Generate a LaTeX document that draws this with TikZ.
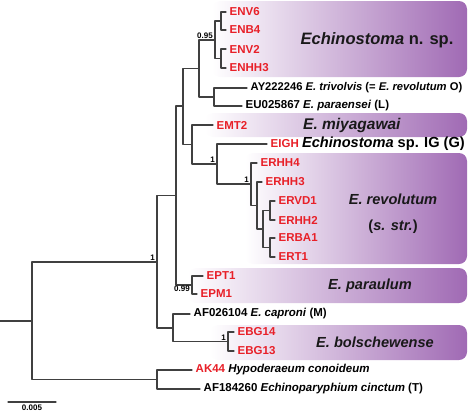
\documentclass[tikz,border=0pt]{standalone}
\usepackage{fontspec}
\setmainfont{Liberation Sans}
\usepackage{tikz}
\usetikzlibrary{positioning}

\definecolor{cladepurple}{RGB}{160,106,180}
\definecolor{isored}{RGB}{232,32,40}
\definecolor{branchgray}{RGB}{64,64,64}

\tikzset{
  branch/.style={draw=branchgray, line width=1.2pt},
  tip/.style={anchor=west, inner sep=3.5pt, font=\fontsize{11.5}{13}\selectfont\bfseries},
  isolate/.style={tip, text=isored},
  support/.style={inner sep=1pt, font=\fontsize{8}{9}\selectfont\bfseries},
  cladebox/.style={left color=white, right color=cladepurple, rounded corners=8pt},
  cladename/.style={text=black!90, font=\fontsize{14.6}{17}\selectfont\bfseries},
}

\begin{document}
\begin{tikzpicture}[x=1pt, y=-1pt, line join=round, line cap=round]

  \useasboundingbox (0,0) rectangle (472,413);
  \def\boxright{467}  % right end of the clade boxes

  % clade boxes
  \shade[cladebox] (212,1) rectangle (\boxright,77);
  \shade[cladebox] (205,113) rectangle (\boxright,137);
  \shade[cladebox] (245,153) rectangle (\boxright,264);
  \shade[cladebox] (188,268) rectangle (\boxright,303);
  \shade[cladebox] (210,325) rectangle (\boxright,360);

  % clade names
  \node[cladename, font=\fontsize{16.5}{19}\selectfont\bfseries] (nspname) at (377,40) {\textit{Echinostoma} n. sp.};
  \node[cladename, font=\fontsize{15.5}{18}\selectfont\bfseries] (miyname) at (352,125) {\textit{E. miyagawai}};
  \node[cladename, align=center] (revname) at (393,214) {\textit{E. revolutum}\\[9pt](\textit{s. str.})};
  \node[cladename] (parname) at (370,286) {\textit{E. paraulum}};
  \node[cladename] (bolname) at (375,342) {\textit{E. bolschewense}};

  % inner nodes of the tree
  \coordinate (stub) at (0,321);
  \coordinate (root) at (32,321);
  \coordinate (outg) at (157,379.5);
  \coordinate (ingr) at (157,262);
  \coordinate (crown) at (176,195.5);
  \coordinate (upper) at (183,106);
  \coordinate (nspgrp) at (199,68.5);
  \coordinate (nsp) at (215,40);
  \coordinate (nspa) at (221,21);
  \coordinate (nspb) at (221,58.5);
  \coordinate (ayeu) at (214,97);
  \coordinate (miyrev) at (192,144.5);
  \coordinate (igrev) at (217,164);
  \coordinate (rev) at (251,184);
  \coordinate (reva) at (257,205.5);
  \coordinate (revb) at (263,229);
  \coordinate (revc) at (270,210.5);
  \coordinate (revd) at (270,247.5);
  \coordinate (para) at (192,285);
  \coordinate (capbol) at (173,328);
  \coordinate (bol) at (228,341.5);

  % tips
  \node[isolate] (env6) at (226,12) {ENV6};
  \node[isolate] (enb4) at (226,30) {ENB4};
  \node[isolate] (env2) at (226,49) {ENV2};
  \node[isolate] (enhh3) at (226,68) {ENHH3};
  \node[tip, font=\fontsize{11.2}{13}\selectfont\bfseries] (ay) at (247,88) {AY222246 \textit{E. trivolvis} (= \textit{E. revolutum} O)};
  \node[tip] (eu) at (242,106) {EU025867 \textit{E. paraensei} (L)};
  \node[isolate] (emt2) at (213,125) {EMT2};
  \node[isolate] (eigh) at (267,144) {EIGH \textcolor{black}{\fontsize{14.6}{17}\selectfont\textit{Echinostoma} sp. IG (G)}};
  \node[isolate] (erhh4) at (257,163) {ERHH4};
  \node[isolate] (erhh3) at (262,182) {ERHH3};
  \node[isolate] (ervd1) at (275,201) {ERVD1};
  \node[isolate] (erhh2) at (275,220) {ERHH2};
  \node[isolate] (erba1) at (275,238) {ERBA1};
  \node[isolate] (ert1) at (275,257) {ERT1};
  \node[isolate] (ept1) at (203,276) {EPT1};
  \node[isolate] (epm1) at (197,294) {EPM1};
  \node[tip] (caproni) at (190,314) {AF026104 \textit{E. caproni} (M)};
  \node[isolate] (ebg14) at (234,332) {EBG14};
  \node[isolate] (ebg13) at (234,351) {EBG13};
  \node[isolate] (ak44) at (192,370) {AK44 \textcolor{black}{\textit{Hypoderaeum conoideum}}};
  \node[tip] (cinctum) at (200,389) {AF184260 \textit{Echinoparyphium cinctum} (T)};

  % branches
  \draw[branch] (stub) -- (root);
  \draw[branch] (root) |- (ingr);
  \draw[branch] (root) |- (outg);
  \draw[branch] (outg) |- (ak44.west);
  \draw[branch] (outg) |- (cinctum.west);
  \draw[branch] (ingr) |- (crown);
  \draw[branch] (ingr) |- (capbol);
  \draw[branch] (crown) |- (upper);
  \draw[branch] (crown) |- (para);
  \draw[branch] (upper) |- (nspgrp);
  \draw[branch] (upper) |- (miyrev);
  \draw[branch] (nspgrp) |- (nsp);
  \draw[branch] (nspgrp) |- (ayeu);
  \draw[branch] (nsp) |- (nspa);
  \draw[branch] (nsp) |- (nspb);
  \draw[branch] (nspa) |- (env6.west);
  \draw[branch] (nspa) |- (enb4.west);
  \draw[branch] (nspb) |- (env2.west);
  \draw[branch] (nspb) |- (enhh3.west);
  \draw[branch] (ayeu) |- (ay.west);
  \draw[branch] (ayeu) |- (eu.west);
  \draw[branch] (miyrev) |- (emt2.west);
  \draw[branch] (miyrev) |- (igrev);
  \draw[branch] (igrev) |- (eigh.west);
  \draw[branch] (igrev) |- (rev);
  \draw[branch] (rev) |- (erhh4.west);
  \draw[branch] (rev) |- (reva);
  \draw[branch] (reva) |- (erhh3.west);
  \draw[branch] (reva) |- (revb);
  \draw[branch] (revb) |- (revc);
  \draw[branch] (revb) |- (revd);
  \draw[branch] (revc) |- (ervd1.west);
  \draw[branch] (revc) |- (erhh2.west);
  \draw[branch] (revd) |- (erba1.west);
  \draw[branch] (revd) |- (ert1.west);
  \draw[branch] (para) |- (ept1.west);
  \draw[branch] (para) |- (epm1.west);
  \draw[branch] (capbol) |- (caproni.west);
  \draw[branch] (capbol) |- (bol);
  \draw[branch] (bol) |- (ebg14.west);
  \draw[branch] (bol) |- (ebg13.west);

  % support values
  \node[support, anchor=south east] (supnsp) at ([xshift=-1pt]nsp) {0.95};
  \node[support, anchor=south east] (supingr) at ([xshift=-1pt]ingr) {1};
  \node[support, anchor=south east] (supigrev) at ([xshift=-1pt]igrev) {1};
  \node[support, anchor=south east] (suprev) at ([xshift=-1pt]rev) {1};
  \node[support, anchor=north east] (suppara) at ([xshift=-1pt]para) {0.99};
  \node[support, anchor=south east] (supbol) at ([xshift=-1pt]bol) {1};

  % scale bar
  \coordinate (sbleft) at (8,402);
  \coordinate (sbright) at (56,402);
  \draw[branch] (sbleft) -- (sbright) node[support, midway, below=1pt] (sbtext) {0.005};

\end{tikzpicture}
\end{document}
